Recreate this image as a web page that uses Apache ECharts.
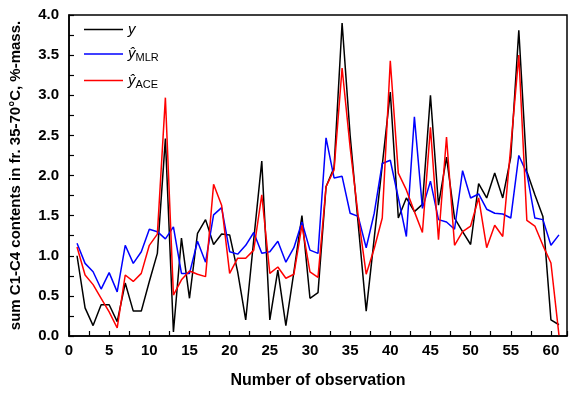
<!DOCTYPE html>
<html>
<head>
<meta charset="utf-8">
<script src="https://cdn.jsdelivr.net/npm/echarts@6/dist/echarts.min.js"></script>
<style>html,body{margin:0;padding:0;background:#fff}#c{width:574px;height:394px}</style>
</head>
<body>
<div id="c"></div>
<script>
var obs = [1,2,3,4,5,6,7,8,9,10,11,12,13,14,15,16,17,18,19,20,21,22,23,24,25,26,27,28,29,30,31,32,33,34,35,36,37,38,39,40,41,42,43,44,45,46,47,48,49,50,51,52,53,54,55,56,57,58,59,60,61];
var yObs = [1.00,0.35,0.13,0.39,0.39,0.18,0.66,0.31,0.31,0.68,1.03,2.46,0.05,1.22,0.47,1.28,1.45,1.14,1.27,1.26,0.80,0.20,1.20,2.18,0.20,0.82,0.13,0.80,1.50,0.47,0.54,1.86,2.10,3.90,2.50,1.40,0.31,1.22,2.13,3.04,1.47,1.72,1.55,1.64,3.00,1.63,2.23,1.47,1.30,1.14,1.90,1.72,2.03,1.72,2.23,3.81,2.05,1.76,1.49,0.20,0.14];
var yMLR = [1.155,0.905,0.80,0.585,0.79,0.55,1.13,0.905,1.05,1.33,1.30,1.21,1.36,0.78,0.78,1.18,0.92,1.51,1.60,1.05,1.02,1.13,1.29,1.03,1.05,1.18,0.92,1.10,1.42,1.07,1.03,2.47,1.97,1.99,1.53,1.49,1.10,1.53,2.15,2.19,1.72,1.24,2.73,1.59,1.93,1.45,1.42,1.33,2.06,1.72,1.77,1.58,1.53,1.52,1.47,2.25,2.03,1.47,1.45,1.13,1.26];
var yACE = [1.11,0.76,0.64,0.47,0.30,0.10,0.76,0.68,0.78,1.13,1.27,2.97,0.51,0.70,0.81,0.77,0.74,1.89,1.63,0.78,0.97,0.97,1.07,1.76,0.78,0.86,0.72,0.77,1.38,0.80,0.73,1.86,2.07,3.34,2.35,1.50,0.77,1.09,1.47,3.43,2.03,1.82,1.55,1.29,2.60,1.20,2.48,1.13,1.30,1.37,1.72,1.10,1.38,1.24,2.36,3.50,1.44,1.37,1.13,0.91,0.01];
var seriesNames = ['y', 'MLR', 'ACE'];
var xTitle = 'Number of observation';
var yTitle = 'sum C1-C4 contents in fr. 35-70\u00B0C, %-mass.';

function pairs(v){ return obs.map(function(x,i){ return [x, v[i]]; }); }
var FONT = 'Liberation Sans, Arial, sans-serif';
var chart = echarts.init(document.getElementById('c'), null, {renderer:'canvas'});
chart.setOption({
  animation:false,
  backgroundColor:'#fff',
  grid:{left:67, right:7, top:15, bottom:58, show:true, borderColor:'#000', borderWidth:1.5, backgroundColor:'transparent'},
  legend:{
    orient:'vertical', left:79, top:17, itemWidth:39, itemHeight:1.5, itemGap:9.5,
    icon:'rect',
    data:seriesNames,
    formatter:function(n){ return n==='y' ? '{i|y}' : '{i|\u0177}{s|'+n+'}'; },
    textStyle:{color:'#000', fontFamily:FONT, fontSize:14,
      rich:{i:{fontStyle:'italic', fontSize:15, fontFamily:FONT, color:'#000'},
            s:{fontSize:11, fontFamily:FONT, color:'#000', padding:[8,0,0,0]}}}
  },
  xAxis:{
    type:'value', min:0, max:62, interval:2.5,
    name:xTitle, nameLocation:'middle', nameGap:37,
    nameTextStyle:{fontFamily:FONT, fontWeight:'bold', fontSize:16, color:'#000'},
    axisLine:{lineStyle:{color:'#000', width:1.5}},
    axisTick:{inside:true, length:5, lineStyle:{color:'#000', width:1.2}},
    axisLabel:{fontFamily:FONT, fontWeight:'bold', fontSize:15, color:'#000', margin:7,
      formatter:function(v){ return (v%5===0 && v<=60) ? String(v) : ''; }},
    splitLine:{show:false}
  },
  yAxis:{
    type:'value', min:0, max:4, interval:0.25,
    name:yTitle, nameLocation:'middle', nameGap:46,
    nameTextStyle:{fontFamily:FONT, fontWeight:'bold', fontSize:15, color:'#000'},
    axisLine:{lineStyle:{color:'#000', width:1.5}},
    axisTick:{inside:true, length:5, lineStyle:{color:'#000', width:1.2}},
    axisLabel:{fontFamily:FONT, fontWeight:'bold', fontSize:15, color:'#000', margin:10,
      formatter:function(v){ return (Math.round(v*100)%50===0) ? v.toFixed(1) : ''; }},
    splitLine:{show:false}
  },
  series:[
    {name:'y', type:'line', data:pairs(yObs), symbol:'none', lineStyle:{color:'#000', width:1.5}, itemStyle:{color:'#000'}, z:3},
    {name:'MLR', type:'line', data:pairs(yMLR), symbol:'none', lineStyle:{color:'#0000ff', width:1.5}, itemStyle:{color:'#0000ff'}, z:4},
    {name:'ACE', type:'line', data:pairs(yACE), symbol:'none', lineStyle:{color:'#ff0000', width:1.5}, itemStyle:{color:'#ff0000'}, z:5}
  ]
});
</script>
</body>
</html>
